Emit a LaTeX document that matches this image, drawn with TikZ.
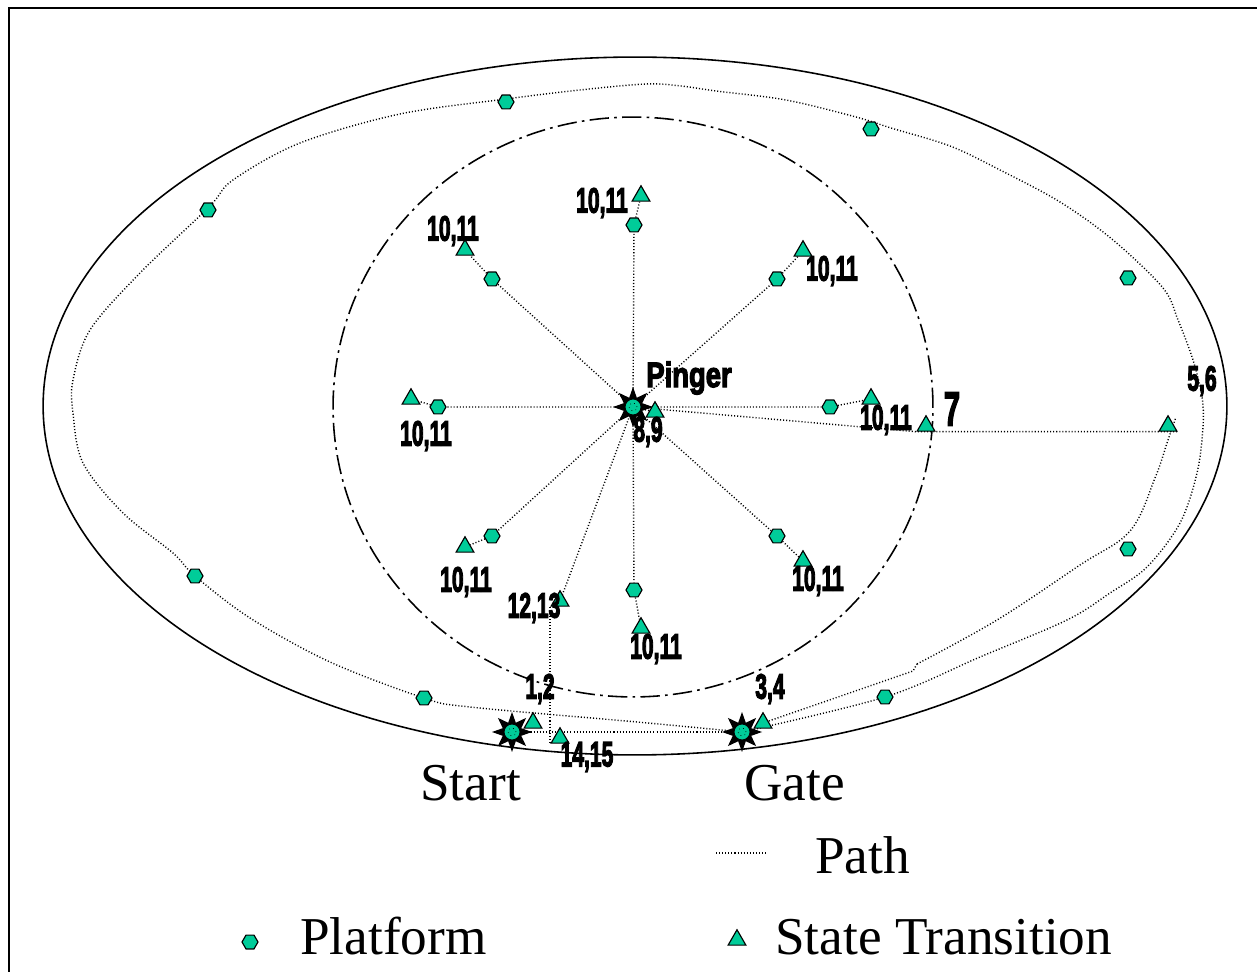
\documentclass[tikz,border=0pt]{standalone}
\usepackage{fontspec}
\setmainfont{Liberation Serif}
\newfontfamily\tagfont[FakeBold=4]{Liberation Sans Bold}
\usetikzlibrary{shapes.geometric}
\definecolor{sea}{RGB}{0,204,153}
\pgfdeclarelayer{bg}
\pgfsetlayers{bg,main}

\tikzset{
  plat/.style={regular polygon, regular polygon sides=6, fill=sea, draw=black,
    line width=0.65pt, minimum size=0.32cm, inner sep=0pt},
  trans/.style={regular polygon, regular polygon sides=3, fill=sea, draw=black,
    line width=0.65pt, minimum size=0.41cm, inner sep=0pt},
  sunray/.style={star, star points=8, star point ratio=2.0, fill=black,
    minimum size=0.8cm, inner sep=0pt},
  sunface/.style={circle, fill=sea, draw=black, line width=0.5pt,
    minimum size=0.32cm, inner sep=0pt},
  route/.style={line width=0.8pt, dash pattern=on 0.6pt off 1.15pt},
  tag/.style={font=\tagfont\fontsize{20}{20}\selectfont, inner sep=0pt, xscale=0.6},
  bigtag/.style={font=\tagfont\fontsize{27}{27}\selectfont, inner sep=0pt, xscale=0.6},
  legend/.style={font=\fontsize{30.3}{31}\selectfont, inner sep=0pt, anchor=base west},
}

\begin{document}
\begin{tikzpicture}[x=0.02cm, y=-0.02cm]
\useasboundingbox (0,0) rectangle (1257,972);

% frame
\draw[line width=1.2pt] (9,972) -- (9,8) -- (1257,8);

% arena boundary and pinger range
\draw[line width=0.9pt] (635,406) ellipse [x radius=11.84cm, y radius=6.98cm];
\draw[line width=0.9pt, dash pattern=on 11pt off 3pt on 1.5pt off 3pt]
  (633,407) ellipse [x radius=6cm, y radius=5.8cm];

% beacons
\node[sunray] (pinger) at (633,407) {};
\node[sunface] at (pinger) {};
\draw[line width=0.4pt, dotted] (pinger) circle (0.08cm);
\node[sunray] (start) at (512,732) {};
\node[sunface] at (start) {};
\draw[line width=0.4pt, dotted] (start) circle (0.08cm);
\node[sunray] (gate) at (742,732) {};
\node[sunface] at (gate) {};
\draw[line width=0.4pt, dotted] (gate) circle (0.08cm);

% platforms round the pinger
\node[plat] (pN)  at (634,225) {};
\node[plat] (pNE) at (777,279) {};
\node[plat] (pE)  at (830,407) {};
\node[plat] (pSE) at (777,536) {};
\node[plat] (pS)  at (634,590) {};
\node[plat] (pSW) at (492,536) {};
\node[plat] (pW)  at (438,407) {};
\node[plat] (pNW) at (492,279) {};

% platforms along the outer route
\node[plat] (o1) at (506,102) {};
\node[plat] (o2) at (871,129) {};
\node[plat] (o3) at (1128,278) {};
\node[plat] (o4) at (1128,549) {};
\node[plat] (o5) at (885,697) {};
\node[plat] (o6) at (424,698) {};
\node[plat] (o7) at (195,576) {};
\node[plat] (o8) at (208,210) {};

% state transitions
\node[trans] (tN)   at (641,196) {};
\node[trans] (tNE)  at (803,251) {};
\node[trans] (tE)   at (871,399) {};
\node[trans] (tSE)  at (803,561) {};
\node[trans] (tS)   at (641,628) {};
\node[trans] (tSW)  at (465,547) {};
\node[trans] (tW)   at (411,399) {};
\node[trans] (tNW)  at (465,250) {};
\node[trans] (t89)  at (655,412) {};
\node[trans] (t7)   at (926,426) {};
\node[trans] (t56)  at (1168,426) {};
\node[trans] (t1213) at (560,601) {};
\node[trans] (t1415) at (560,738) {};
\node[trans] (t12)  at (533,723) {};
\node[trans] (t34)  at (763,723) {};

% routes
\begin{pgfonlayer}{bg}
\draw[route] (pinger.center) -- (pN) -- (tN);
\draw[route] (pinger.center) -- (pNE) -- (tNE);
\draw[route] (pinger.center) -- (pE) -- (tE);
\draw[route] (pinger.center) -- (pSE) -- (tSE);
\draw[route] (pinger.center) -- (pS) -- (tS);
\draw[route] (pinger.center) -- (pSW) -- (tSW);
\draw[route] (pinger.center) -- (pW) -- (tW);
\draw[route] (pinger.center) -- (pNW) -- (tNW);
\draw[route] (pinger.center) -- (t89.center);
\draw[route] (pinger.center) -- (t7.corner 2) -- (t56.corner 3);
\draw[route] (pinger.center) -- (t1213.center);
\draw[route] (t1213.corner 2) -- (t1213.corner 2 |- t1415.corner 2);
\draw[route] (start.center) -- (gate.center);
% loop round the arena
\draw[route] plot[smooth, tension=0.55] coordinates {
  (742,732) (885,697) (980,657) (1067,620) (1110,593) (1147,567) (1180,523)
  (1197,473) (1203,427) (1202,397) (1193,360) (1178,320) (1163,288)
  (1113,240) (1060,202) (1000,170) (950,146) (891,128) (856,117) (786,100)
  (716,91) (681,86) (646,84) (580,90) (506,99) (400,114) (300,143)
  (233,180) (209,207) (140,273) (90,330) (73,380) (73,413) (83,463)
  (123,513) (173,553) (195,576) (250,618) (330,662) (424,698) (470,707)
  (637,722) (742,732)};
% from the gate towards the recovery point
\draw[route] (t34.center) -- (913,671) -- (917,664);
\draw[route] plot[smooth, tension=0.6] coordinates {
  (917,664) (997,620) (1080,565) (1130,531) (1155,478) (1168,440) (1176,417)};
\end{pgfonlayer}

% labels
\node[tag] at (689,378) [xscale=1.3] {Pinger};
\node[tag] at (648,432) {8,9};
\node[tag] at (602,203) {10,11};
\node[tag] at (453,231) {10,11};
\node[tag] at (832,271) {10,11};
\node[tag] at (426,436) {10,11};
\node[tag] at (886,420) {10,11};
\node[tag] at (466,582) {10,11};
\node[tag] at (818,581) {10,11};
\node[tag] at (656,649) {10,11};
\node[tag] at (534,608) {12,13};
\node[tag] at (540,689) {1,2};
\node[tag] at (770,689) {3,4};
\node[tag] at (587,757) {14,15};
\node[tag] at (1202,381) {5,6};
\node[bigtag] at (952,409) {7};

% captions and legend
\node[legend] at (420,800) {Start};
\node[legend] at (744,800) {Gate};
\coordinate (pathA) at (716,853);
\coordinate (pathB) at (767,853);
\draw[route] (pathA) -- (pathB);
\node[legend] at (815,873) {Path};
\node[plat] (legplat) at (250,942) {};
\node[legend] at (300,954) {Platform};
\node[trans] (legtrans) at (737,940) {};
\node[legend] at (775,954) {State Transition};
\end{tikzpicture}
\end{document}
